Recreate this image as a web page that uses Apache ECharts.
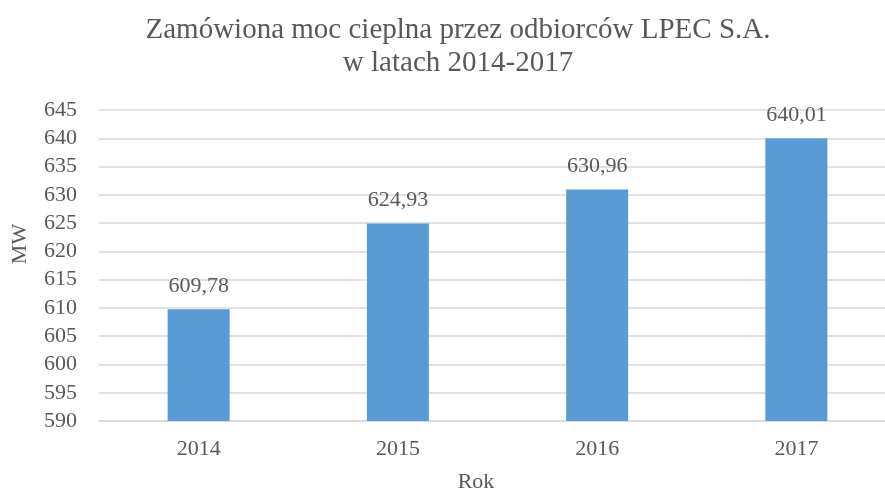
<!DOCTYPE html>
<html>
<head>
<meta charset="utf-8">
<script src="https://cdn.jsdelivr.net/npm/echarts@6/dist/echarts.min.js"></script>
<style>
  html, body { margin: 0; padding: 0; background: #fff; }
  #chart { width: 885px; height: 491px; }
</style>
</head>
<body>
<div id="chart"></div>
<script>
  // dane z wykresu
  const years = ['2014', '2015', '2016', '2017']
  const moc = [609.78, 624.93, 630.96, 640.01]
  const yMin = 590
  const yMax = 645
  const yStep = 5

  const txt = '#595959'
  const serif = '"Liberation Serif", "Times New Roman", serif'

  let chart = echarts.init(document.getElementById('chart'))
  chart.setOption({
    animation: false,
    title: {
      text: 'Zamówiona moc cieplna przez odbiorców LPEC S.A.\nw latach 2014-2017',
      left: 453,
      top: 9,
      textAlign: 'center',
      textStyle: {
        color: txt,
        fontFamily: serif,
        fontWeight: 'normal',
        fontSize: 29,
        lineHeight: 33,
        align: 'center'
      }
    },
    grid: {
      left: 99,
      top: 110,
      width: 797,
      height: 311,
      outerBoundsMode: 'none'
    },
    xAxis: {
      type: 'category',
      data: years,
      axisLine: { lineStyle: { color: '#D9D9D9', width: 1.5 } },
      axisTick: { show: false },
      axisLabel: {
        color: txt,
        fontFamily: serif,
        fontSize: 22,
        margin: 17
      }
    },
    yAxis: {
      type: 'value',
      min: yMin,
      max: yMax,
      interval: yStep,
      axisLine: { show: false },
      axisTick: { show: false },
      splitLine: { lineStyle: { color: '#D9D9D9', width: 1.5 } },
      axisLabel: {
        color: txt,
        fontFamily: serif,
        fontSize: 22,
        margin: 22
      }
    },
    graphic: [
      { // tytul osi Y
        type: 'text',
        x: 20,
        y: 244,
        rotation: Math.PI / 2,
        style: {
          text: 'MW',
          fill: txt,
          font: '22px ' + serif,
          textAlign: 'center',
          textVerticalAlign: 'middle'
        }
      },
      { // tytul osi X
        type: 'text',
        x: 476,
        y: 482,
        style: {
          text: 'Rok',
          fill: txt,
          font: '22px ' + serif,
          textAlign: 'center',
          textVerticalAlign: 'middle'
        }
      }
    ],
    series: [{
      type: 'bar',
      data: moc,
      barWidth: 62,
      itemStyle: { color: '#5B9BD5' },
      label: {
        show: true,
        position: 'top',
        distance: 12,
        color: txt,
        fontFamily: serif,
        fontSize: 22,
        formatter: p => p.value.toFixed(2).replace('.', ',')
      }
    }]
  })
</script>
</body>
</html>
